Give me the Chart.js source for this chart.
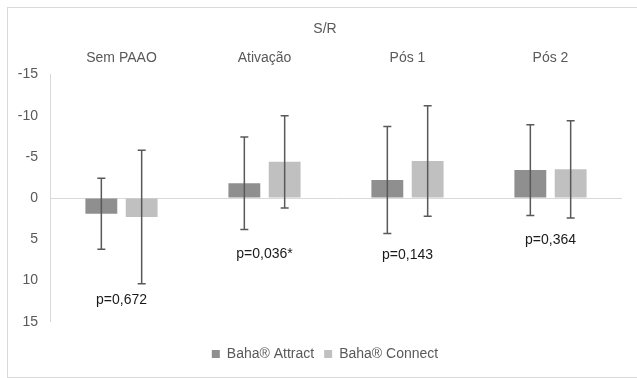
<!DOCTYPE html>
<html>
<head>
<meta charset="utf-8">
<script src="https://cdn.jsdelivr.net/npm/chart.js@4"></script>
<style>
  body { margin: 0; background: #fff; }
  #wrap { position: relative; width: 637px; height: 378px; overflow: hidden; }
  #frame { position: absolute; left: 7px; top: 7px; width: 640px; height: 371px; box-sizing: border-box;
           border: 1px solid #d9d9d9; pointer-events: none; }
  canvas { position: absolute; left: 0; top: 0; }
</style>
</head>
<body>
<div id="wrap">
  <canvas id="chart" width="637" height="378"></canvas>
  <div id="frame"></div>
</div>
<script>
// dados
const categories = ['Sem PAAO', 'Ativação', 'Pós 1', 'Pós 2'];
const attract = [1.9, -1.8, -2.2, -3.4];
const attractErr = [4.3, 5.6, 6.5, 5.5];
const connect = [2.3, -4.4, -4.5, -3.5];
const connectErr = [8.1, 5.6, 6.7, 5.9];
const pLabels = ['p=0,672', 'p=0,036*', 'p=0,143', 'p=0,364'];
const pY = [12.4, 6.8, 6.9, 5.1];

const FONT = 'Liberation Sans, Arial, sans-serif';
const TXT = '#595959';

// legenda mais alta, para subir a área do gráfico
const legendHeight = {
  id: 'legendHeight',
  beforeInit(chart) {
    const fit = chart.legend.fit;
    chart.legend.fit = function () {
      fit.bind(chart.legend)();
      this.height = 56.3;
    };
  },
  afterLayout(chart) {
    // deixa os rótulos do eixo y passarem à esquerda sem corte
    chart.scales.y.left = 0;
  }
};

// barras de erro + valores p
const errorBars = {
  id: 'errorBars',
  afterDatasetsDraw(chart) {
    const ctx = chart.ctx;
    const y = chart.scales.y;
    const x = chart.scales.x;
    const errs = [attractErr, connectErr];
    ctx.save();
    ctx.strokeStyle = '#595959';
    ctx.lineWidth = 1.5;
    chart.data.datasets.forEach((ds, di) => {
      chart.getDatasetMeta(di).data.forEach((bar, i) => {
        const v = ds.data[i];
        const e = errs[di][i];
        const y1 = y.getPixelForValue(v - e);
        const y2 = y.getPixelForValue(v + e);
        ctx.beginPath();
        ctx.moveTo(bar.x, y1);
        ctx.lineTo(bar.x, y2);
        ctx.moveTo(bar.x - 4, y1);
        ctx.lineTo(bar.x + 4, y1);
        ctx.moveTo(bar.x - 4, y2);
        ctx.lineTo(bar.x + 4, y2);
        ctx.stroke();
      });
    });
    ctx.fillStyle = '#1a1a1a';
    ctx.font = '14px ' + FONT;
    ctx.textAlign = 'center';
    ctx.textBaseline = 'middle';
    pLabels.forEach((t, i) => {
      ctx.fillText(t, x.getPixelForValue(i), y.getPixelForValue(pY[i]));
    });
    ctx.restore();
  }
};

new Chart(document.getElementById('chart'), {
  type: 'bar',
  data: {
    labels: categories,
    datasets: [
      { label: 'Baha® Attract', data: attract, backgroundColor: '#8f8f8f' },
      { label: 'Baha® Connect', data: connect, backgroundColor: '#c0c0c0' }
    ]
  },
  options: {
    responsive: false,
    animation: false,
    events: [],
    barPercentage: 0.79,
    categoryPercentage: 0.564,
    layout: { padding: { left: 28, right: 15, top: 0, bottom: 0 } },
    scales: {
      x: {
        position: 'top',
        grid: { display: false, drawTicks: false },
        border: { display: false },
        ticks: { color: TXT, font: { family: FONT, size: 14 }, padding: 8 },
        afterFit(scale) { scale.height = 36.7; }
      },
      y: {
        reverse: true,
        min: -15,
        max: 15,
        ticks: { stepSize: 5, color: TXT, font: { family: FONT, size: 14 }, padding: 12 },
        grid: {
          drawTicks: false,
          color: (c) => (c.tick && c.tick.value === 0 ? '#d9d9d9' : 'rgba(0,0,0,0)')
        },
        border: { display: true, color: '#d9d9d9' },
        afterFit(scale) { scale.width = 22; }
      }
    },
    plugins: {
      title: {
        display: true,
        text: 'S/R',
        color: TXT,
        font: { family: FONT, size: 14, weight: 'normal' },
        padding: { top: 21, bottom: 0 }
      },
      legend: {
        position: 'bottom',
        title: { display: true, text: ' ', font: { size: 11 }, padding: 1 },
        labels: {
          color: TXT,
          font: { family: FONT, size: 14 },
          boxWidth: 8,
          boxHeight: 8,
          padding: 10
        }
      },
      tooltip: { enabled: false }
    }
  },
  plugins: [legendHeight, errorBars]
});
</script>
</body>
</html>
